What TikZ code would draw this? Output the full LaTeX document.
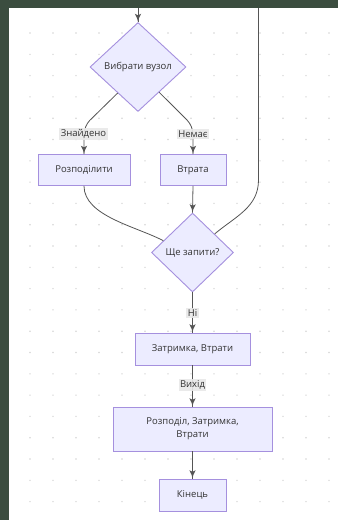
\documentclass[tikz,border=0pt]{standalone}
\usepackage{fontspec}
\setmainfont{Open Sans}
\usepackage{tikz}
\usetikzlibrary{arrows}
\usetikzlibrary{decorations.markings}
\usetikzlibrary{shapes.geometric}
\usetikzlibrary{positioning}
\tikzset{->/.style = {decoration={markings,
                                  mark=at position 1 with {\arrow[scale=1.6]{latex'}}},
                      postaction={decorate}}}
\definecolor{mgreen}{HTML}{3B4D3F}
\definecolor{mdot}{HTML}{D6D6D6}
\definecolor{mfill}{HTML}{ECECFF}
\definecolor{mborder}{HTML}{A590DE}
\definecolor{mline}{HTML}{555555}
\definecolor{mtext}{HTML}{333333}
\definecolor{mlabel}{HTML}{E8E8E8}
\tikzset{procbox/.style = {draw=mborder, fill=mfill, line width=0.9pt, text=mtext,
                           font=\fontsize{9.5}{13}\selectfont, inner sep=0pt, align=center},
         decision/.style = {procbox, diamond},
         edgelbl/.style = {fill=mlabel, fill opacity=0.9, text opacity=1, text=mtext,
                           font=\fontsize{9.5}{13}\selectfont, inner sep=1.5pt},
         flow/.style = {mline, line width=0.8pt}}

\begin{document}
\begin{tikzpicture}[x=1pt, y=-1pt]
    \useasboundingbox (0, 0) rectangle (338, 520);
    \fill [white] (0, 0) rectangle (338, 520);
    \foreach \i in {0,...,13}
      \foreach \j in {0,...,22}
        \fill [mdot] (30+23*\i, 33+21.3*\j) circle (0.8pt);
    \fill [mgreen] (0, 0) rectangle (9, 520);
    \fill [mgreen] (0, 0) rectangle (338, 8);

    \node [decision, minimum width=96pt, minimum height=89pt] (choose) at (138, 67) {Вибрати вузол};
    \node [procbox, minimum width=92pt, minimum height=31pt] (split) at (84, 170) {Розподілити};
    \node [procbox, minimum width=66pt, minimum height=31pt] (loss) at (193, 170) {Втрата};
    \node [decision, minimum width=82pt, minimum height=79pt] (more) at (192.5, 252.5) {Ще запити?};
    \node [procbox, minimum width=115pt, minimum height=32pt] (delay) at (192.5, 349) {Затримка, Втрати};
    \node [procbox, minimum width=159pt, minimum height=44pt] (all) at (192.5, 429) {Розподіл, Затримка,\\Втрати};
    \node [procbox, minimum width=67pt, minimum height=32pt] (final) at (192.5, 495) {Кінець};

    \coordinate (intop) at (138, 8);
    \coordinate (looptop) at (258.5, 8);
    \coordinate (loopturn) at (258.5, 180);

    \draw [flow, ->] (intop) -- (choose.north);
    \draw [flow, ->, rounded corners=8pt] (choose.232) -- ([yshift=28pt]split.north) -- (split.north);
    \draw [flow, ->, rounded corners=8pt] (choose.310) -- ([yshift=28pt]loss.north) -- (loss.north);
    \draw [flow, ->] (split.south) to [out=-90, in=152, looseness=0.8] (more.158);
    \draw [flow, ->] (loss.south) -- (more.north);
    \draw [flow] (more.40) to [out=40, in=-90] (loopturn) -- (looptop);
    \draw [flow, ->] (more.south) -- (delay.north);
    \draw [flow, ->] (delay.south) -- (all.north);
    \draw [flow, ->] (all.south) -- (final.north);

    \node [edgelbl] (found) at (83.5, 134) {Знайдено};
    \node [edgelbl] (none) at (193, 134) {Немає};
    \node [edgelbl] (no) at (192.5, 313) {Ні};
    \node [edgelbl] (exit) at (192.5, 385) {Вихід};
  \end{tikzpicture}
\end{document}
